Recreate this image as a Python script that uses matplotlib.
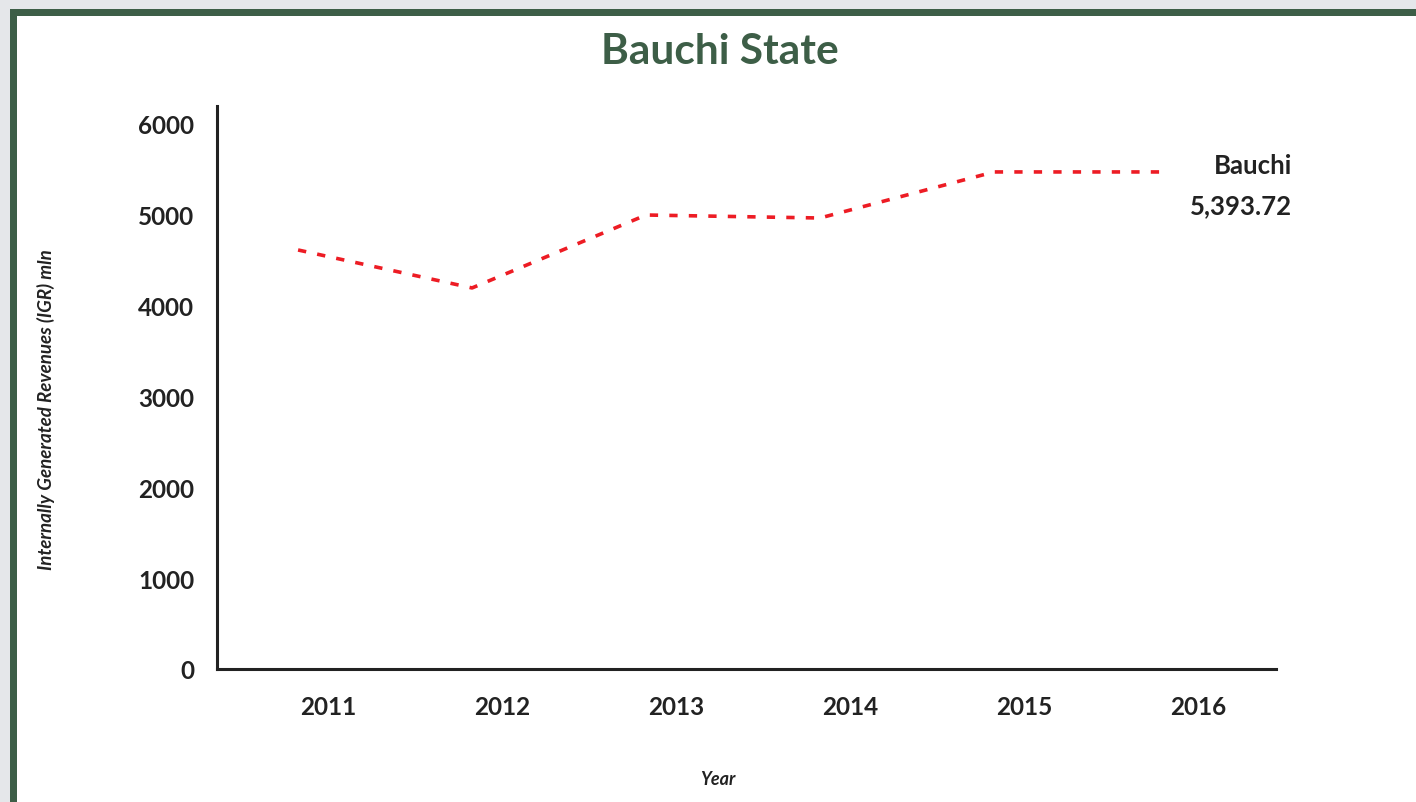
import matplotlib
matplotlib.use("Agg")
import matplotlib.pyplot as plt
from matplotlib.patches import Rectangle
from matplotlib.transforms import ScaledTranslation

# Datos (IGR en millones)
years = [2011, 2012, 2013, 2014, 2015, 2016]
igr = [4613, 4195, 4998, 4965, 5472, 5472]
y_ticks = [0, 1000, 2000, 3000, 4000, 5000, 6000]
series_name = "Bauchi"
latest_label = "5,393.72"

plt.rcParams['font.family'] = ['Lato', 'DejaVu Sans']

green = '#3d5e47'
red = '#ed1c24'
ink = '#222222'

fig = plt.figure(figsize=(14.16, 8.03), dpi=100)
fig.patch.set_facecolor('#e5e7ea')

# marco verde y panel blanco
W, H = 1416, 803
fig.patches.append(Rectangle((10 / W, 0), 1, 1 - 10 / H, transform=fig.transFigure,
                             facecolor=green, edgecolor='none', zorder=-10))
fig.patches.append(Rectangle((17 / W, 0), 1, 1 - 17 / H, transform=fig.transFigure,
                             facecolor='white', edgecolor='none', zorder=-9))

ax = fig.add_axes([217 / W, 1 - 670 / H, (1276 - 217) / W, (670 - 107) / H])
ax.set_facecolor('none')
ax.set_zorder(5)

ax.plot(years, igr, color=red, linewidth=2.6, linestyle=(0, (2.3, 3.1)),
        dash_capstyle='butt', solid_joinstyle='round')

ax.set_xlim(2010.534, 2016.621)
ax.set_ylim(0, 6198)

ax.set_xticks(years)
ax.set_xticklabels([str(y) for y in years])
ax.set_yticks(y_ticks)
ax.set_yticklabels([str(v) for v in y_ticks])

ax.tick_params(axis='both', length=0, labelsize=17.5, labelcolor=ink)
ax.tick_params(axis='x', pad=19)
ax.tick_params(axis='y', pad=16.5)
for lab in ax.get_xticklabels() + ax.get_yticklabels():
    lab.set_fontweight('bold')
# etiquetas de años desplazadas a la derecha como en el original
off = ScaledTranslation(0.30, 0, fig.dpi_scale_trans)
for lab in ax.get_xticklabels():
    lab.set_transform(lab.get_transform() + off)

for side in ['top', 'right']:
    ax.spines[side].set_visible(False)
for side in ['left', 'bottom']:
    ax.spines[side].set_linewidth(2.2)
    ax.spines[side].set_color(ink)

fig.text(720 / W, 1 - 52 / H, 'Bauchi State', ha='center', va='center',
         fontsize=30.5, fontweight='bold', color=green)
fig.text(46 / W, 1 - 410 / H, 'Internally Generated Revenues (IGR) mln', rotation=90,
         ha='center', va='center', fontsize=13.5, fontweight='bold', style='italic', color=ink)
fig.text(718 / W, 1 - 780 / H, 'Year', ha='center', va='center',
         fontsize=13, fontweight='bold', style='italic', color=ink)

fig.text(1292 / W, 1 - 166 / H, series_name, ha='right', va='center',
         fontsize=18.5, fontweight='bold', color=ink)
fig.text(1292 / W, 1 - 206 / H, latest_label, ha='right', va='center',
         fontsize=18.5, fontweight='bold', color=ink)

fig.savefig('out.png', dpi=100, facecolor=fig.get_facecolor())
